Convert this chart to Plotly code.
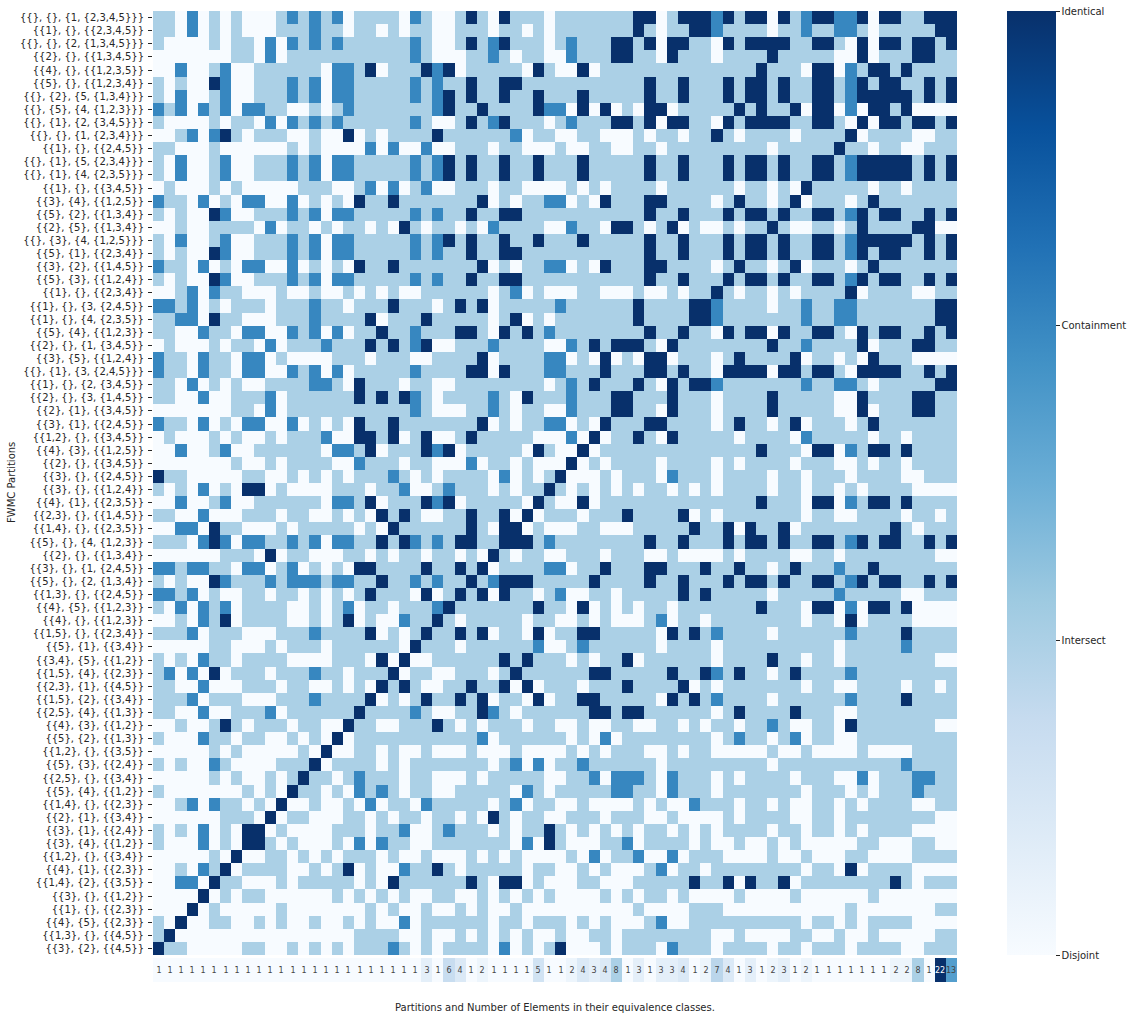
import plotly.graph_objects as go

# y tick labels, top to bottom
partitions = [
    "{{}, {}, {1, {2,3,4,5}}}", "{{1}, {}, {{2,3,4,5}}", "{{}, {}, {2, {1,3,4,5}}}", "{{2}, {}, {{1,3,4,5}}",
    "{{4}, {}, {{1,2,3,5}}", "{{5}, {}, {{1,2,3,4}}", "{{}, {2}, {5, {1,3,4}}}", "{{}, {5}, {4, {1,2,3}}}",
    "{{}, {1}, {2, {3,4,5}}}", "{{}, {}, {1, {2,3,4}}}", "{{1}, {}, {{2,4,5}}", "{{}, {1}, {5, {2,3,4}}}",
    "{{}, {1}, {4, {2,3,5}}}", "{{1}, {}, {{3,4,5}}", "{{3}, {4}, {{1,2,5}}", "{{5}, {2}, {{1,3,4}}",
    "{{2}, {5}, {{1,3,4}}", "{{}, {3}, {4, {1,2,5}}}", "{{5}, {1}, {{2,3,4}}", "{{3}, {2}, {{1,4,5}}",
    "{{5}, {3}, {{1,2,4}}", "{{1}, {}, {{2,3,4}}", "{{1}, {}, {3, {2,4,5}}", "{{1}, {}, {4, {2,3,5}}",
    "{{5}, {4}, {{1,2,3}}", "{{2}, {}, {1, {3,4,5}}", "{{3}, {5}, {{1,2,4}}", "{{}, {1}, {3, {2,4,5}}}",
    "{{1}, {}, {2, {3,4,5}}", "{{2}, {}, {3, {1,4,5}}", "{{2}, {1}, {{3,4,5}}", "{{3}, {1}, {{2,4,5}}",
    "{{1,2}, {}, {{3,4,5}}", "{{4}, {3}, {{1,2,5}}", "{{2}, {}, {{3,4,5}}", "{{3}, {}, {{2,4,5}}",
    "{{3}, {}, {{1,2,4}}", "{{4}, {1}, {{2,3,5}}", "{{2,3}, {}, {{1,4,5}}", "{{1,4}, {}, {{2,3,5}}",
    "{{5}, {}, {4, {1,2,3}}", "{{2}, {}, {{1,3,4}}", "{{3}, {}, {1, {2,4,5}}", "{{5}, {}, {2, {1,3,4}}",
    "{{1,3}, {}, {{2,4,5}}", "{{4}, {5}, {{1,2,3}}", "{{4}, {}, {{1,2,3}}", "{{1,5}, {}, {{2,3,4}}",
    "{{5}, {1}, {{3,4}}", "{{3,4}, {5}, {{1,2}}", "{{1,5}, {4}, {{2,3}}", "{{2,3}, {1}, {{4,5}}",
    "{{1,5}, {2}, {{3,4}}", "{{2,5}, {4}, {{1,3}}", "{{4}, {3}, {{1,2}}", "{{5}, {2}, {{1,3}}",
    "{{1,2}, {}, {{3,5}}", "{{5}, {3}, {{2,4}}", "{{2,5}, {}, {{3,4}}", "{{5}, {4}, {{1,2}}",
    "{{1,4}, {}, {{2,3}}", "{{2}, {1}, {{3,4}}", "{{3}, {1}, {{2,4}}", "{{3}, {4}, {{1,2}}",
    "{{1,2}, {}, {{3,4}}", "{{4}, {1}, {{2,3}}", "{{1,4}, {2}, {{3,5}}", "{{3}, {}, {{1,2}}",
    "{{1}, {}, {{2,3}}", "{{4}, {5}, {{2,3}}", "{{1,3}, {}, {{4,5}}", "{{3}, {2}, {{4,5}}",
]

# relation per cell: 0 disjoint, 1 intersect, 2 containment, 3 identical
relations = [
    "110201010001 212120111102 100131031110 111111133013 332313303123 322303311333",
    "110201010001 112110110101 100111011010 111111131011 332111101121 122101111133",
    "100001011020 212121111112 100131231110 121113313033 110313333113 310303313313",
    "000000011020 111111111112 100011210110 021113311031 110111131111 100301113311",
    "002001200111 111022130111 323011111031 003011111111 111111311103 302133131111",
    "101003200111 212022111112 121131133111 111111113113 111313313113 312313311313",
    "102001200111 212022111112 123131131131 113111113113 111313313113 312333331313",
    "212021202211 001012111111 123113111132 203030103301 111131311303 302033130000",
    "100001011020 212121111112 100131231110 121113313033 110313333113 310303313313",
    "001202310111 001003010111 131111112011 001100010110 113101111011 113011110011",
    "110001000000 101000020200 200111011000 100110011011 111111101111 131101100111",
    "102001200111 212022111112 123131131131 113111113113 111313313113 312333331313",
    "102001200111 212022111112 123131131131 113111113113 111313313113 312333331313",
    "010001010000 011100120201 200111011000 010101111011 111101101031 111101101111",
    "211020102200 201010311311 111113010112 201031113311 110131101301 110131111111",
    "101003200111 212022111112 121131133111 111111113113 111313313113 312313311313",
    "001001111020 110101101031 011010211110 021103310130 100101131001 101311113300",
    "102001200111 212022111112 123131131131 113111113113 111313313113 312333331313",
    "101003200111 212022111112 121131133111 111111113113 111313313113 312313311313",
    "211020102200 201010311311 111113010112 201031113311 110131101301 110131111111",
    "101003200111 212022111112 121131133111 111111113113 111313313113 312313311313",
    "001202110001 001001010100 111111012010 001100010010 113101101011 113011110011",
    "221201011101 112110111311 101313011111 211111131111 332111101121 122111111133",
    "112203110001 112111130111 311111013010 111111131111 332111111121 122111111133",
    "110021102200 212020113112 111331031312 111111113113 110313303113 310313311313",
    "010001011020 111211131312 300111211110 021313331031 111111131121 111301113311",
    "211021102201 000011101110 011113011112 201030103301 110131111301 101031110000",
    "211021102200 212020111112 111133031112 211131113313 110333303313 310333311313",
    "110201010011 112210311101 100111111110 121311131031 332111111121 122101111133",
    "110020011120 111111313132 101111210311 121113311131 110111131111 100311113311",
    "000000011020 111111111112 100011210110 021113311031 110111131111 100301113311",
    "211020102200 201010311311 111113010112 201031113311 110131101301 110131111111",
    "010001010010 111200331301 300131111100 020301131031 111101111021 111101101111",
    "002001200111 111022130111 323011111031 003011111111 111111311103 302133131111",
    "000000010010 111100211101 100020110100 030101111011 110101111011 100101101111",
    "311000001100 101010111210 101111020101 300010111021 110111101101 110111100111",
    "101020103301 000011101120 012111010113 101010101101 010111101101 101011110000",
    "002001200111 111022130111 323011111031 003011111111 111111311103 302133131111",
    "110020001110 110010103131 001131130301 110111311113 010111111101 100111101101",
    "002203110001 011111010311 111131033010 001100011111 311303113011 111111310111",
    "111023202211 212022113132 121331133312 111111113113 111313313113 312313311313",
    "000000111030 110001101011 011010310110 011101110010 000101111001 101111111100",
    "221221102201 201010331111 311313011112 201131113311 131131101311 121131111111",
    "101003211121 222122113112 121131233311 111311113113 111313313113 312313311313",
    "221201001101 101010131110 301313031101 200110111113 131111101111 121111100111",
    "102021201111 001012011011 123111111131 103010101101 111111311103 302033130000",
    "001021301111 001013010021 131011111011 001010001201 101111111101 103011110000",
    "111201110001 112111130101 311313011030 113311111031 312111101111 112111131111",
    "000001100010 111011111103 111011111120 012111111011 110111111111 101111121111",
    "101021101111 000011103030 011111131311 101011301111 110111131101 101111111100",
    "120203011101 112110111301 100111013111 111331111131 132131101311 112111111111",
    "110020001110 110010103131 001131130301 110111311113 010111111101 100111101101",
    "111201110001 112111130101 311313011030 113311111031 312111101111 112111131111",
    "110020011120 111111311112 100113210111 111331331111 110131111311 100111111111",
    "001001310111 011003110011 131010111011 001001100110 101101121001 103111111100",
    "100021101100 101030111111 111112011111 101020111111 110121101201 100111111111",
    "000001010000 010300110100 100010001000 010101110010 110000010010 000100001111",
    "101002100001 113011110101 111111012020 112111111011 111111101111 111111121111",
    "000001010010 131101211101 100010111110 011202221021 110101111011 100201112211",
    "100000001010 311010212101 100111110210 111112211021 110111111101 110101112111",
    "001202110103 001001020110 211111012011 001000010100 211101101001 101011110011",
    "000000111030 110001101011 011010310110 011101110010 000101111001 101111111100",
    "101020103301 000011101120 012111010113 101010101101 010111101101 101011110000",
    "100020103310 100010202110 011111110203 100011201111 010010010100 000110001100",
    "000001030011 010101110100 100010101000 010201120020 111000010010 001100001111",
    "001021301111 001013010021 131011111011 001010001201 101111111101 103011110000",
    "002203110001 011111010311 111131033010 001100011111 311303113011 111111310111",
    "000030101100 000010101010 011001010101 000010101101 000010000100 000010000000",
    "000301000001 000000010100 100101001000 000000010000 111000000000 001000000011",
    "103001100101 001001010020 111111011011 101010001200 111111111101 101011110000",
    "130000000000 000000111100 100101010100 100110111111 110010000110 010010000011",
    "311000001100 101010111210 101111020101 300010111021 110111101101 110111100111",
]

# elements in each equivalence class, left to right
class_sizes = [
    1, 1, 1, 1, 1, 1, 1, 1, 1, 1, 1, 1, 1, 1, 1, 1, 1, 1, 1, 1, 1, 1, 1, 1,
    3, 1, 6, 4, 1, 2, 1, 1, 1, 1, 5, 1, 1, 2, 4, 3, 4, 8, 1, 3, 1, 3, 3, 4,
    1, 2, 7, 4, 1, 3, 1, 2, 3, 1, 2, 1, 1, 1, 1, 1, 1, 1, 2, 2, 8, 1, 22, 13,
]

relation_names = ["Disjoint", "Intersect", "Containment", "Identical"]

blues = ["#f7fbff", "#deebf7", "#c6dbef", "#9ecae1", "#6baed6", "#4292c6", "#2171b5", "#08519c", "#08306b"]
colorscale = [[i / 8, c] for i, c in enumerate(blues)]

W, H = 1132, 1020
text_color = "#262626"
font_name = "DejaVu Sans"

z = [[int(c) for c in row.replace(" ", "")] for row in relations]
for i, row in enumerate(z):
    assert len(row) == 72, (i, len(row))
assert len(partitions) == 72 and len(z) == 72 and len(class_sizes) == 72

fig = go.Figure()

# Main relation grid
fig.add_trace(go.Heatmap(
    z=z, x=list(range(72)), y=list(range(72)), zmin=0, zmax=3, colorscale=colorscale,
    xaxis="x", yaxis="y", hoverongaps=False,
    colorbar=dict(
        x=1007 / W, xanchor="left", xpad=0, ypad=0, thickness=49, thicknessmode="pixels",
        len=944, lenmode="pixels", y=1 - 11 / H, yanchor="top", outlinewidth=0,
        tickmode="array", tickvals=[0, 1, 2, 3], ticktext=relation_names,
        ticks="outside", ticklen=4, tickwidth=1, tickcolor=text_color,
        tickfont=dict(family=font_name, size=10, color=text_color),
    ),
))

# Strip with class sizes under the grid
fig.add_trace(go.Heatmap(
    z=[class_sizes], x=list(range(72)), y=[0], zmin=1, zmax=22, colorscale=colorscale,
    xaxis="x2", yaxis="y2", showscale=False,
    text=[[str(v) for v in class_sizes]], texttemplate="%{text}",
    textfont=dict(family=font_name, size=8),
))

fig.update_layout(
    width=W, height=H, autosize=False, margin=dict(l=0, r=0, t=0, b=0),
    paper_bgcolor="white", plot_bgcolor="white",
    font=dict(family=font_name, size=10, color=text_color),
    xaxis=dict(domain=[153 / W, 957 / W], range=[-0.5, 71.5], anchor="y", showticklabels=False,
               ticks="", showgrid=False, zeroline=False),
    yaxis=dict(domain=[1 - 955 / H, 1 - 11 / H], range=[71.5, -0.5], anchor="x",
               tickmode="array", tickvals=list(range(72)), ticktext=partitions,
               ticks="outside", ticklen=4, tickwidth=1, tickcolor=text_color, ticklabelstandoff=2,
               tickfont=dict(family=font_name, size=10, color=text_color),
               showgrid=False, zeroline=False),
    xaxis2=dict(domain=[153 / W, 957 / W], range=[-0.5, 71.5], anchor="y2", showticklabels=False,
                ticks="", showgrid=False, zeroline=False),
    yaxis2=dict(domain=[1 - 982 / H, 1 - 958 / H], range=[-0.5, 0.5], anchor="x2", showticklabels=False,
                ticks="", showgrid=False, zeroline=False),
    annotations=[
        dict(text="Partitions and Number of Elements in their equivalence classes.",
             xref="paper", yref="paper", x=555 / W, y=1 - 1007 / H, showarrow=False,
             xanchor="center", yanchor="middle", font=dict(family=font_name, size=10, color=text_color)),
        dict(text="FWMC Partitions", textangle=-90,
             xref="paper", yref="paper", x=11 / W, y=1 - 483 / H, showarrow=False,
             xanchor="center", yanchor="middle", font=dict(family=font_name, size=10, color=text_color)),
    ],
)

fig.write_html("out.html", config=dict(displayModeBar=False),
               post_script="document.body.style.margin='0';")
